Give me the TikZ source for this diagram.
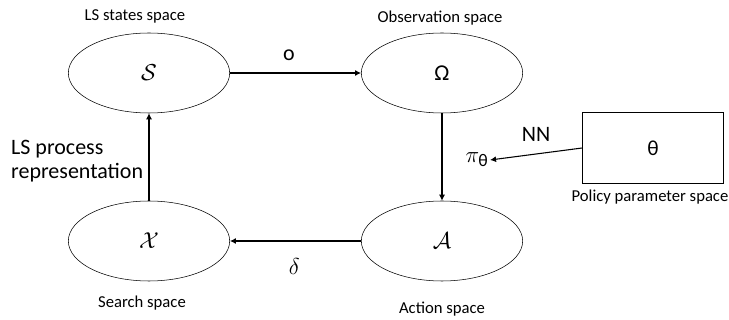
\documentclass[tikz,border=0pt]{standalone}
\usepackage{amsmath}
\usepackage{fontspec}
\setmainfont{Carlito}
\usetikzlibrary{shapes.geometric, arrows.meta, positioning}

\begin{document}
\begin{tikzpicture}[
    x=0.75pt, y=-0.75pt,
    space/.style={draw, ellipse, minimum width=121pt, minimum height=60pt, inner sep=0pt, font=\fontsize{17}{19}\selectfont},
    parambox/.style={draw, rectangle, minimum width=106pt, minimum height=53pt, font=\fontsize{16}{18}\selectfont},
    caption/.style={font=\fontsize{12.5}{14}\selectfont, inner sep=1pt},
    maplabel/.style={font=\fontsize{16.5}{18}\selectfont, inner sep=1pt, align=left},
    mathlabel/.style={font=\fontsize{19}{21}\selectfont, inner sep=1pt},
    link/.style={draw, -{Latex[length=4.5pt, width=4.5pt]}, thick}
  ]
  \useasboundingbox (0,0) rectangle (729,320);

  % spaces
  \node[space] (S) at (149,73) {$\mathcal{S}$};
  \node[space] (O) at (442,73) {Ω};
  \node[space] (A) at (442,241) {$\mathcal{A}$};
  \node[space] (X) at (149,241) {$\mathcal{X}$};
  \node[parambox] (T) at (653,148) {θ};
  \node[mathlabel] (pi) at (477,160) {$\pi_{\text{θ}}$};

  % captions
  \node[caption] (Scap) at (135,16) {LS states space};
  \node[caption] (Ocap) at (440,18) {Observation space};
  \node[caption] (Xcap) at (142,303) {Search space};
  \node[caption] (Acap) at (442,309) {Action space};
  \node[caption] (Tcap) at (650,197) {Policy parameter space};

  % maps
  \draw[link] (S) -- node[maplabel, pos=0.45, above=8pt] {o} (O);
  \draw[link] (O) -- (A);
  \draw[link] (A) -- node[mathlabel, pos=0.51, below=12pt] {$\delta$} (X);
  \draw[link] (X) -- node[maplabel, left=3pt, yshift=-3pt] {LS process\\representation} (S);
  \draw[link] (T.west) -- node[maplabel, above=8pt] {NN} (pi.east);
\end{tikzpicture}
\end{document}
